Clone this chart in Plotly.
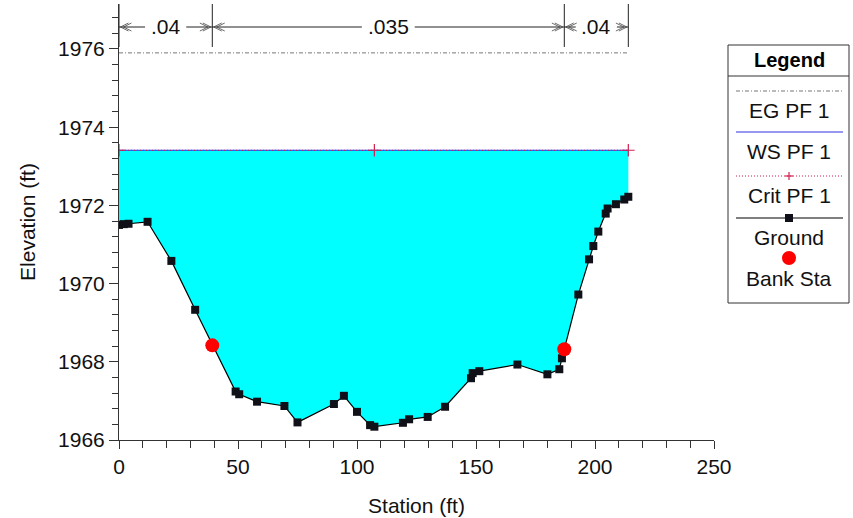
import plotly.graph_objects as go

# ---------------- data ----------------
station = [0, 2, 4, 12, 22, 32, 49, 50.5, 58, 69.5, 75, 90.3, 94.5, 100, 105.5, 107.3,
           119.3, 121.9, 129.7, 137, 147.9, 148.6, 151.4, 167.4, 180, 185, 186.1, 193,
           197.5, 199.3, 201.4, 204.5, 205.3, 208.8, 212.3, 214]
elev = [1971.5, 1971.52, 1971.53, 1971.58, 1970.58, 1969.33, 1967.24, 1967.17, 1966.98,
        1966.87, 1966.45, 1966.92, 1967.13, 1966.72, 1966.38, 1966.34, 1966.44, 1966.53,
        1966.59, 1966.85, 1967.58, 1967.71, 1967.76, 1967.93, 1967.68, 1967.81, 1968.09,
        1969.72, 1970.62, 1970.96, 1971.33, 1971.79, 1971.92, 1972.03, 1972.15, 1972.22]
bank_sta = [39.2, 187.1]
bank_elev = [1968.42, 1968.32]
ws_elev = 1973.41
eg_elev = 1975.9
crit_elev = 1973.41
crit_sta = [0, 107.3, 214]
n_breaks = [0, 39.2, 187.1, 214]
n_values = [".04", ".035", ".04"]
legend_names = ["EG PF 1", "WS PF 1", "Crit PF 1", "Ground", "Bank Sta"]

FONT = "Liberation Sans, Arial, sans-serif"
FS = 21
W, H = 853, 518
PL, PR, PT, PB = 119, 714, 4, 440  # plot area in pixels


def px(x):
    return (x - PL) / (PR - PL)


def py(y):
    return (PB - y) / (PB - PT)


fig = go.Figure()
x_end = station[-1]

# water fill between ground and water surface
fig.add_trace(go.Scatter(
    x=station + [x_end, station[0]], y=elev + [ws_elev, ws_elev],
    fill="toself", fillcolor="#00FFFF", mode="none", hoverinfo="skip", showlegend=False))

EG_STYLE = dict(color="#777777", width=1, dash="4px,2px,1px,2px")
WS_STYLE = dict(color="#3030E0", width=1.2)
CRIT_STYLE = dict(color="#D02050", width=1, dash="1px,2px")
GR_STYLE = dict(color="black", width=1.2)

# EG
fig.add_trace(go.Scatter(x=[station[0], x_end], y=[eg_elev, eg_elev], mode="lines",
                         line=EG_STYLE, name=legend_names[0], showlegend=False))
# WS
fig.add_trace(go.Scatter(x=[station[0], x_end], y=[ws_elev, ws_elev], mode="lines",
                         line=WS_STYLE, name=legend_names[1], showlegend=False))
# Crit
fig.add_trace(go.Scatter(x=crit_sta, y=[crit_elev] * len(crit_sta), mode="lines+markers",
                         line=CRIT_STYLE,
                         marker=dict(symbol="cross-thin", size=9,
                                     line=dict(color="#D02050", width=1.2)),
                         name=legend_names[2], showlegend=False))
# Ground
fig.add_trace(go.Scatter(x=station, y=elev, mode="lines+markers",
                         line=GR_STYLE,
                         marker=dict(symbol="square", size=8, color="#101018"),
                         name=legend_names[3], showlegend=False))
# Bank stations
fig.add_trace(go.Scatter(x=bank_sta, y=bank_elev, mode="markers",
                         marker=dict(symbol="circle", size=14, color="#FF0000"),
                         name=legend_names[4], showlegend=False))

shapes = []
annotations = []

# Manning's n region markers at top
y_top = 1.0
y_bot = py(47)
y_arrow = py(27)
px_per_unit = (PR - PL) / 250.0
for b in n_breaks:
    shapes.append(dict(type="line", xref="x", yref="paper", x0=b, x1=b, y0=y_bot, y1=y_top,
                       line=dict(color="#222222", width=1)))
ah_len = 8 / px_per_unit
ah_h = 4 / (PB - PT)
for i, lab in enumerate(n_values):
    a, b = n_breaks[i], n_breaks[i + 1]
    c = (a + b) / 2
    tw = (len(lab) * 0.556 - 0.278) * FS / px_per_unit
    gap = 6 / px_per_unit
    shapes.append(dict(type="line", xref="x", yref="paper", x0=a, x1=c - tw / 2 - gap,
                       y0=y_arrow, y1=y_arrow, line=dict(color="#222222", width=1)))
    shapes.append(dict(type="line", xref="x", yref="paper", x0=c + tw / 2 + gap, x1=b,
                       y0=y_arrow, y1=y_arrow, line=dict(color="#222222", width=1)))
    # chevrons
    for tip, d in ((a, 1), (b, -1)):
        for off in (0.6, 0.6 + 3 / px_per_unit):
            t = tip + d * off
            path = f"M {t + d*ah_len},{y_arrow + ah_h} L {t},{y_arrow} L {t + d*ah_len},{y_arrow - ah_h}"
            shapes.append(dict(type="path", xref="x", yref="paper", path=path,
                               line=dict(color="#444444", width=0.8)))
    annotations.append(dict(x=c, y=y_arrow, xref="x", yref="paper", text=lab,
                            showarrow=False, font=dict(family=FONT, size=FS, color="#111111"),
                            xanchor="center", yanchor="middle"))

# ---------------- legend box (drawn) ----------------
LX0, LX1, LY0, LY1 = 728, 849, 45, 303
shapes.append(dict(type="rect", xref="paper", yref="paper", x0=px(LX0), x1=px(LX1),
                   y0=py(LY1), y1=py(LY0), line=dict(color="#333333", width=1),
                   fillcolor="white"))
shapes.append(dict(type="line", xref="paper", yref="paper", x0=px(LX0), x1=px(LX1),
                   y0=py(76), y1=py(76), line=dict(color="#333333", width=1)))
annotations.append(dict(x=px(789), y=py(60), xref="paper", yref="paper", text="<b>Legend</b>",
                        showarrow=False, font=dict(family=FONT, size=20, color="black"),
                        xanchor="center", yanchor="middle"))
sx0, sx1, cx = 736, 843, 789
line_y = [91, 132, 176, 218]
text_y = [110, 152, 195, 237, 278]
styles = [EG_STYLE, WS_STYLE, CRIT_STYLE, GR_STYLE]
for ly, st in zip(line_y, styles):
    shapes.append(dict(type="line", xref="paper", yref="paper", x0=px(sx0), x1=px(sx1),
                       y0=py(ly), y1=py(ly), line=st))
# crit plus
shapes.append(dict(type="line", xref="paper", yref="paper", x0=px(cx - 4), x1=px(cx + 4),
                   y0=py(176), y1=py(176), line=dict(color="#D02050", width=1.2)))
shapes.append(dict(type="line", xref="paper", yref="paper", x0=px(cx), x1=px(cx),
                   y0=py(172), y1=py(180), line=dict(color="#D02050", width=1.2)))
# ground square
shapes.append(dict(type="rect", xref="paper", yref="paper", x0=px(cx - 4), x1=px(cx + 4),
                   y0=py(222), y1=py(214), line=dict(width=0), fillcolor="#101018"))
# bank dot
shapes.append(dict(type="circle", xref="paper", yref="paper", x0=px(cx - 7), x1=px(cx + 7),
                   y0=py(265), y1=py(251), line=dict(width=0), fillcolor="#FF0000"))
for ty, name in zip(text_y, legend_names):
    annotations.append(dict(x=px(cx), y=py(ty), xref="paper", yref="paper", text=name,
                            showarrow=False, font=dict(family=FONT, size=FS, color="#111111"),
                            xanchor="center", yanchor="middle"))

fig.update_layout(
    width=W, height=H,
    margin=dict(l=PL, r=W - PR, t=PT, b=H - PB, pad=0),
    paper_bgcolor="white", plot_bgcolor="white",
    font=dict(family=FONT, size=FS, color="#111111"),
    shapes=shapes, annotations=annotations, showlegend=False,
)
fig.update_xaxes(
    range=[0, 250], tick0=0, dtick=50, showgrid=False, zeroline=False,
    showline=True, linecolor="#333333", linewidth=1,
    ticks="outside", ticklen=8, tickcolor="#333333",
    minor=dict(dtick=10, ticks="outside", ticklen=7, tickcolor="#333333"),
    title=dict(text="Station (ft)", font=dict(size=FS), standoff=21),
    tickfont=dict(size=FS),
)
fig.update_yaxes(
    range=[1966, 1977.15], tick0=1966, dtick=2, showgrid=False, zeroline=False,
    showline=True, linecolor="#333333", linewidth=1,
    ticks="outside", ticklen=9, tickcolor="#333333",
    minor=dict(dtick=0.4, ticks="outside", ticklen=6, tickcolor="#333333"),
    title=dict(text="Elevation (ft)", font=dict(size=FS), standoff=16),
    tickfont=dict(size=FS),
)

fig.write_html("out.html", config={"displayModeBar": False},
               post_script="document.body.style.margin='0';document.body.style.overflow='hidden';")
